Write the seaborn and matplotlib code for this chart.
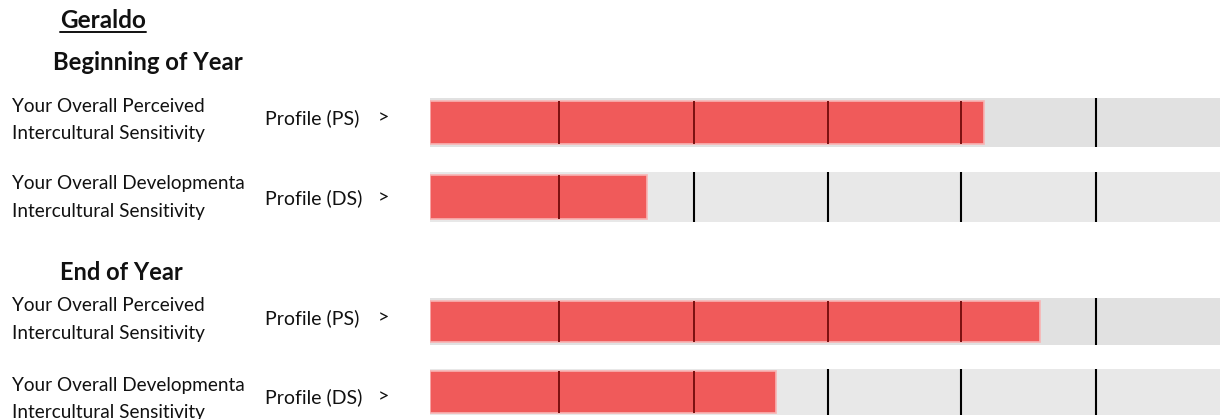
import matplotlib
matplotlib.use("Agg")
import matplotlib.pyplot as plt
from matplotlib.lines import Line2D
import seaborn as sns
import pandas as pd

# ---------------- data ----------------
person = "Geraldo"
periods = ["Beginning of Year", "End of Year"]
label_line1 = ["Your Overall Perceived", "Your Overall Developmenta"]
label_line2 = ["Intercultural Sensitivity", "Intercultural Sensitivity"]
profiles = ["Profile (PS)", "Profile (DS)"]
arrow = ">"
profile_keys = ["PS", "DS"]
begin_scores = [4.13, 1.62]
end_scores = [4.55, 2.58]
stage_thresholds = [0.965, 1.97, 2.968, 3.96, 4.968]
scale_max = 5.89

# ---------------- style ----------------
sns.set_theme(style="white")
plt.rcParams["font.family"] = ["Lato", "DejaVu Sans"]
RED = "#f05a5a"
GREYS = ["#e1e1e1", "#e8e8e8"]
LINE_ON_RED = "#7a0f0f"
TXT = "#111111"

W, H = 1220, 419
fig = plt.figure(figsize=(W / 100, H / 100), dpi=100)
fig.patch.set_facecolor("white")


def fx(x):
    return x / W


def fy(y):
    return 1 - y / H


def make_axes(c0, c1):
    step = c1 - c0
    top = c0 - step / 2
    bot = c1 + step / 2
    ax = fig.add_axes([fx(429.5), fy(bot), 1 - fx(429.5), (bot - top) / H])
    return ax


GREY_W, RED_W = 0.66, 0.59


def draw_group(ax, scores):
    df_bg = pd.DataFrame({"profile": profile_keys, "value": [scale_max] * 2})
    df = pd.DataFrame({"profile": profile_keys, "value": scores})
    sns.barplot(data=df_bg, x="value", y="profile", hue="profile", palette=GREYS,
                orient="h", width=GREY_W, ax=ax, legend=False, linewidth=0,
                saturation=1)
    sns.barplot(data=df, x="value", y="profile", color=RED, orient="h",
                width=RED_W, ax=ax, saturation=1, edgecolor="#f8b4b4",
                linewidth=1.2)
    for i, s in enumerate(scores):
        for t in stage_thresholds:
            if t < s:
                ax.vlines(t, i - RED_W / 2, i + RED_W / 2, color=LINE_ON_RED,
                          lw=1.4, zorder=5)
            else:
                ax.vlines(t, i - GREY_W / 2, i + GREY_W / 2, color="black",
                          lw=1.5, zorder=5)
    ax.set_xlim(0, scale_max)
    ax.set_ylim(1.5, -0.5)
    ax.axis("off")


ax1 = make_axes(122.5, 197)
draw_group(ax1, begin_scores)
ax2 = make_axes(321.5, 392)
draw_group(ax2, end_scores)

# ---------------- texts ----------------
t_name = fig.text(fx(60), fy(21), person, fontsize=17.5, fontweight="bold",
                  va="center", ha="left", color=TXT)
fig.text(fx(53), fy(63), periods[0], fontsize=17.2, fontweight="bold",
         va="center", ha="left", color=TXT)
fig.text(fx(60), fy(273), periods[1], fontsize=17, fontweight="bold",
         va="center", ha="left", color=TXT)

row_line1_y = [106, 183, 305, 385]
row_line2_y = [133, 211, 333, 412]
row_prof_y = [118, 198, 318, 397]
for r in range(4):
    k = r % 2
    fig.text(fx(12), fy(row_line1_y[r]), label_line1[k], fontsize=13.7,
             va="center", ha="left", color=TXT)
    fig.text(fx(12), fy(row_line2_y[r]), label_line2[k], fontsize=13.7,
             va="center", ha="left", color=TXT)
    fig.text(fx(265), fy(row_prof_y[r]), profiles[k], fontsize=14,
             va="center", ha="left", color=TXT)
    fig.text(fx(378), fy(row_prof_y[r]), arrow, fontsize=14,
             va="center", ha="left", color=TXT)

# underline for the name
fig.canvas.draw()
bb = t_name.get_window_extent().transformed(fig.transFigure.inverted())
fig.add_artist(Line2D([bb.x0, bb.x1], [fy(32)] * 2, color=TXT, lw=1.4,
                      transform=fig.transFigure))

fig.savefig("out.png", dpi=100)
